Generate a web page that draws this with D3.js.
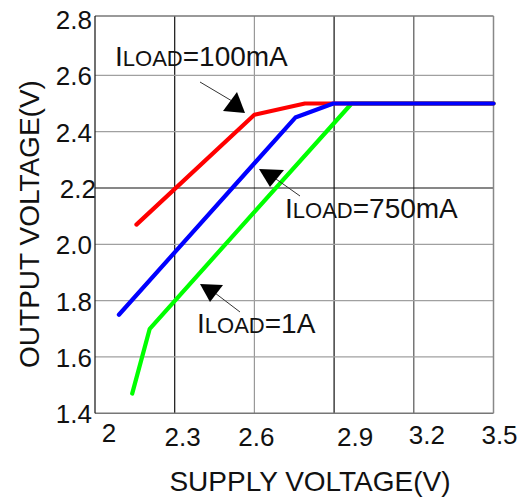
<!DOCTYPE html>
<html>
<head>
<meta charset="utf-8">
<script src="https://cdn.jsdelivr.net/npm/d3@7"></script>
<style>
  body { margin: 0; background: #fff; }
  svg { display: block; font-family: "Liberation Sans", Arial, sans-serif; }
</style>
</head>
<body>
<div id="chart"></div>
<script>
// data
var xTicks = [2, 2.3, 2.6, 2.9, 3.2, 3.5];
var yTicks = [1.4, 1.6, 1.8, 2.0, 2.2, 2.4, 2.6, 2.8];
var load100mA = [[2.156, 2.07], [2.6, 2.46], [2.79, 2.5], [3.5, 2.5]];
var load750mA = [[2.09, 1.75], [2.754, 2.45], [2.897, 2.5], [3.5, 2.5]];
var load1A = [[2.14, 1.47], [2.206, 1.70], [2.966, 2.5], [3.5, 2.5]];
var seriesNames = ["=1A", "=100mA", "=750mA"];
var xTitle = "SUPPLY VOLTAGE(V)";
var yTitle = "OUTPUT VOLTAGE(V)";

var width = 524, height = 497;

var svg = d3.select("#chart").append("svg")
    .attr("width", width)
    .attr("height", height);

var x = d3.scaleLinear().domain([2, 3.5]).range([95, 493.5]);
var y = d3.scaleLinear().domain([1.4, 2.8]).range([413.3, 19]);

// grid lines
var darkX = [2.3, 2.9];
svg.selectAll(".vgrid")
    .data(xTicks.slice(1, -1))
    .enter().append("line")
    .attr("x1", d => x(d)).attr("x2", d => x(d))
    .attr("y1", 16).attr("y2", y(1.4))
    .attr("stroke", d => darkX.indexOf(d) >= 0 ? "#111" : (d == 3.2 ? "#555" : "#999"))
    .attr("stroke-width", 1.2);

svg.selectAll(".hgrid")
    .data(yTicks.slice(1, -1))
    .enter().append("line")
    .attr("x1", x(2)).attr("x2", x(3.5))
    .attr("y1", d => y(d)).attr("y2", d => y(d))
    .attr("stroke", d => d == 2.2 ? "#111" : "#a0a0a0")
    .attr("stroke-width", 1.2);

// frame
svg.append("line").attr("x1", x(2)).attr("x2", x(3.5)).attr("y1", 16).attr("y2", 16)
    .attr("stroke", "#777").attr("stroke-width", 1.5);
svg.append("line").attr("x1", x(2)).attr("x2", x(3.5)).attr("y1", y(1.4)).attr("y2", y(1.4))
    .attr("stroke", "#777").attr("stroke-width", 1.5);
svg.append("line").attr("x1", x(3.5)).attr("x2", x(3.5)).attr("y1", 16).attr("y2", y(1.4))
    .attr("stroke", "#888").attr("stroke-width", 1.5);
svg.append("line").attr("x1", x(2)).attr("x2", x(2)).attr("y1", 16).attr("y2", y(1.4))
    .attr("stroke", "#111").attr("stroke-width", 1.2);

// tick labels
var xNudge = [14, 8, 2, 21, 13, 6];
svg.selectAll(".xlab")
    .data(xTicks)
    .enter().append("text")
    .attr("x", (d, i) => x(d) + xNudge[i])
    .attr("y", (d, i) => i == 0 ? 442 : (i < 4 ? 446 : 444))
    .attr("text-anchor", "middle")
    .attr("font-size", 26)
    .attr("fill", "#111")
    .text(d => d3.format("")(d));

svg.selectAll(".ylab")
    .data(yTicks)
    .enter().append("text")
    .attr("x", d => d == 2.2 ? 96 : 92)
    .attr("y", d => y(d) + 1)
    .attr("dy", "0.35em")
    .attr("text-anchor", "end")
    .attr("font-size", 26)
    .attr("fill", "#111")
    .text(d => d3.format(".1f")(d));

// axis titles
svg.append("text")
    .attr("x", 310).attr("y", 491)
    .attr("text-anchor", "middle")
    .attr("font-size", 28)
    .attr("fill", "#111")
    .text(xTitle);

svg.append("text")
    .attr("transform", "translate(39,224) rotate(-90)")
    .attr("text-anchor", "middle")
    .attr("font-size", 28)
    .attr("fill", "#111")
    .text(yTitle);

// curves
var line = d3.line().x(d => x(d[0])).y(d => y(d[1]));
var curves = [
    { data: load1A, color: "#00ff00" },
    { data: load100mA, color: "#ff0000" },
    { data: load750mA, color: "#0000ff" }
];
svg.selectAll(".curve")
    .data(curves)
    .enter().append("path")
    .attr("d", d => line(d.data))
    .attr("fill", "none")
    .attr("stroke", d => d.color)
    .attr("stroke-width", 4.2)
    .attr("stroke-linejoin", "round")
    .attr("stroke-linecap", "round");

// annotations with arrows
var notes = [
    { name: seriesNames[1], tx: 115, ty: 66, line: [[200, 82], [232, 101]], tri: [[223, 111], [237, 92], [245, 113]] },
    { name: seriesNames[2], tx: 285, ty: 218, line: [[300, 196], [276, 179]], tri: [[259, 169], [284, 170], [270, 187]] },
    { name: seriesNames[0], tx: 197, ty: 333, line: [[240, 312], [215, 293]], tri: [[200, 284], [223, 285], [210, 302]] }
];

notes.forEach(function (n) {
    svg.append("line")
        .attr("x1", n.line[0][0]).attr("y1", n.line[0][1])
        .attr("x2", n.line[1][0]).attr("y2", n.line[1][1])
        .attr("stroke", "#333").attr("stroke-width", 1);
    svg.append("polygon")
        .attr("points", n.tri.map(p => p.join(",")).join(" "))
        .attr("fill", "#000");
    var t = svg.append("text")
        .attr("x", n.tx).attr("y", n.ty)
        .attr("fill", "#111");
    t.append("tspan").attr("font-size", 28).text("I");
    t.append("tspan").attr("font-size", 22).text("LOAD");
    t.append("tspan").attr("font-size", 28).text(n.name);
});
</script>
</body>
</html>
